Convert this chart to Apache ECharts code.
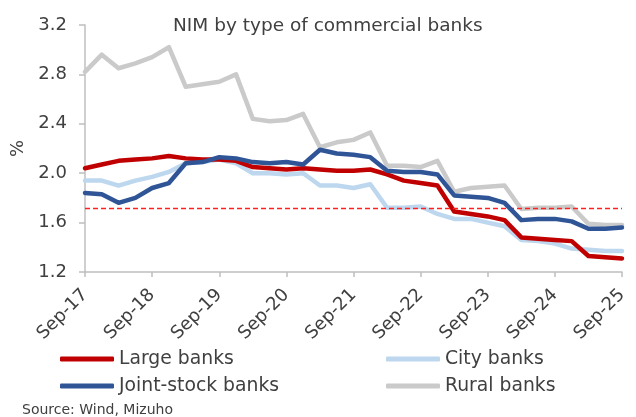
<!DOCTYPE html>
<html>
<head>
<meta charset="utf-8">
<script src="https://cdn.jsdelivr.net/npm/echarts@6/dist/echarts.min.js"></script>
<style>html,body{margin:0;padding:0;background:#fff;}#c{width:636px;height:417px;}</style>
</head>
<body>
<div id="c"></div>
<script>
var categories = ["Sep-17","Dec-17","Mar-18","Jun-18","Sep-18","Dec-18","Mar-19","Jun-19","Sep-19","Dec-19","Mar-20","Jun-20","Sep-20","Dec-20","Mar-21","Jun-21","Sep-21","Dec-21","Mar-22","Jun-22","Sep-22","Dec-22","Mar-23","Jun-23","Sep-23","Dec-23","Mar-24","Jun-24","Sep-24","Dec-24","Mar-25","Jun-25","Sep-25"];
var largeBanks = [2.04,2.07,2.10,2.11,2.12,2.14,2.12,2.11,2.11,2.10,2.05,2.04,2.03,2.04,2.03,2.02,2.02,2.03,1.99,1.94,1.92,1.90,1.69,1.67,1.65,1.62,1.48,1.47,1.46,1.45,1.33,1.32,1.31];
var cityBanks = [1.94,1.94,1.90,1.94,1.97,2.01,2.08,2.09,2.11,2.08,2.00,2.00,1.99,2.00,1.90,1.90,1.88,1.91,1.72,1.72,1.73,1.67,1.63,1.63,1.60,1.57,1.46,1.45,1.43,1.39,1.38,1.37,1.37];
var jointStockBanks = [1.84,1.83,1.76,1.80,1.88,1.92,2.08,2.09,2.13,2.12,2.09,2.08,2.09,2.07,2.19,2.16,2.15,2.13,2.02,2.01,2.01,1.99,1.82,1.81,1.80,1.76,1.62,1.63,1.63,1.61,1.55,1.55,1.56];
var ruralBanks = [2.82,2.96,2.85,2.89,2.94,3.02,2.70,2.72,2.74,2.80,2.44,2.42,2.43,2.48,2.21,2.25,2.27,2.33,2.06,2.06,2.05,2.10,1.85,1.88,1.89,1.90,1.71,1.72,1.72,1.73,1.59,1.58,1.58];
var referenceLevel = 1.72;
var yTicks = {min: 1.2, max: 3.2, interval: 0.4};

var FONT = "DejaVu Sans";
var TXT = "#404040";
var chart = echarts.init(document.getElementById('c'), null, {renderer: 'canvas'});
function mk(name, data, color, z) {
  return {
    name: name, type: 'line', data: data, symbol: 'none', z: z,
    lineStyle: {color: color, width: 4.5, cap: 'round', join: 'round'},
    itemStyle: {color: color},
    emphasis: {disabled: true}, animation: false
  };
}
var rural = mk('Rural banks', ruralBanks, '#CACACA', 2);
var city = mk('City banks', cityBanks, '#BDD7EE', 3);
var large = mk('Large banks', largeBanks, '#C00000', 4);
var joint = mk('Joint-stock banks', jointStockBanks, '#2F5597', 5);
rural.markLine = {
  silent: true, symbol: ['none','none'], label: {show: false},
  lineStyle: {color: '#FF2020', type: [5,3], width: 1.3},
  data: [{yAxis: referenceLevel}], animation: false
};
var legendCommon = {
  orient: 'vertical', itemWidth: 54, itemHeight: 5, itemGap: 7, icon: 'roundRect', padding: 0,
  textStyle: {fontFamily: FONT, fontSize: 18.8, color: TXT, lineHeight: 20},
  selectedMode: false
};
chart.setOption({
  animation: false,
  title: {
    text: 'NIM by type of commercial banks', left: 173, top: 15, padding: 0,
    textStyle: {fontFamily: FONT, fontSize: 18.5, fontWeight: 'normal', color: TXT, lineHeight: 22}
  },
  legend: [
    Object.assign({}, legendCommon, {left: 60, top: 349, data: ['Large banks','Joint-stock banks']}),
    Object.assign({}, legendCommon, {left: 386, top: 349, data: ['City banks','Rural banks']})
  ],
  graphic: [{
    type: 'text', left: 22, top: 403,
    style: {text: 'Source: Wind, Mizuho', fontFamily: FONT, fontSize: 14, fill: TXT}
  }],
  grid: {left: 85, right: 14, top: 25, bottom: 145},
  xAxis: {
    type: 'category', data: categories, boundaryGap: false,
    axisLine: {lineStyle: {color: '#BFBFBF', width: 1.5}},
    axisTick: {interval: 3, length: 5, lineStyle: {color: '#BFBFBF', width: 1.5}},
    axisLabel: {interval: 3, rotate: 45, margin: 20, fontFamily: FONT, fontSize: 18, color: TXT},
    splitLine: {show: false}
  },
  yAxis: {
    type: 'value', min: yTicks.min, max: yTicks.max, interval: yTicks.interval,
    name: '%', nameLocation: 'middle', nameGap: 55, nameRotate: 90,
    nameTextStyle: {fontFamily: FONT, fontSize: 18, color: TXT},
    axisLine: {show: true, lineStyle: {color: '#BFBFBF', width: 1.5}},
    axisTick: {show: true, length: 6, lineStyle: {color: '#BFBFBF', width: 1.5}},
    axisLabel: {margin: 18, fontFamily: FONT, fontSize: 18, color: TXT, formatter: function (v) { return v.toFixed(1); }},
    splitLine: {show: false}
  },
  series: [rural, city, large, joint]
});
</script>
</body>
</html>
